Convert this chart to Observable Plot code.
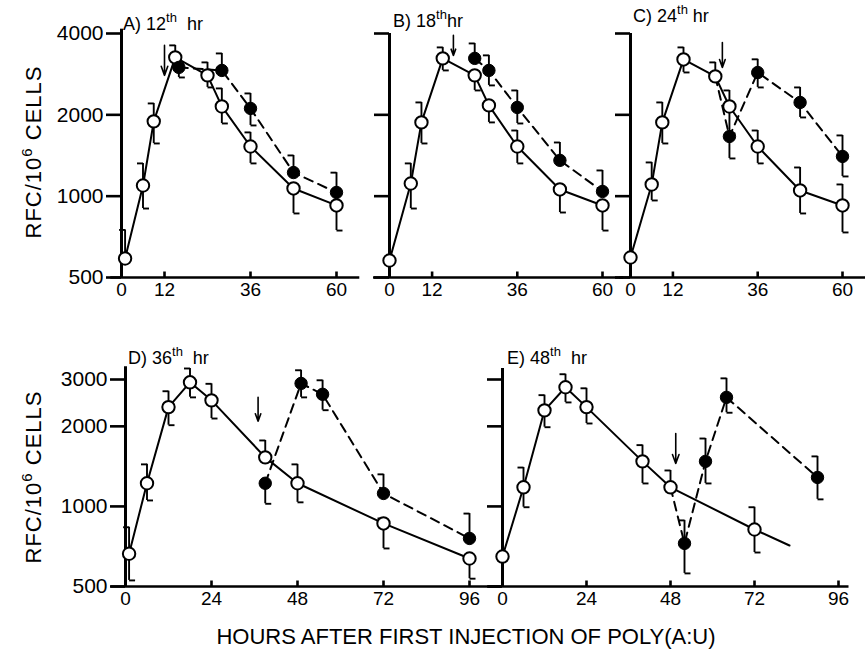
<!DOCTYPE html>
<html><head><meta charset="utf-8">
<script src="https://cdn.jsdelivr.net/npm/d3@7"></script>
<script src="https://cdn.jsdelivr.net/npm/@observablehq/plot@0.6"></script>
<style>
body{margin:0;background:#fff;}
#wrap{position:relative;width:865px;height:651px;font-family:"Liberation Sans",Arial,sans-serif;color:#000;overflow:hidden;background:#fff}
#wrap svg{position:absolute;left:0;top:0}
.t{position:absolute;font-size:18px;line-height:18px;white-space:nowrap}
.t sup{font-size:13px;line-height:0;vertical-align:0;position:relative;top:-8px}
.ylab{position:absolute;font-size:22px;line-height:22px;letter-spacing:1px;white-space:nowrap;transform:translate(-50%,-50%) rotate(-90deg)}
.ylab sup{font-size:15px;line-height:0;vertical-align:0;position:relative;top:-9px}
.xlab{position:absolute;font-size:22px;line-height:22px;white-space:nowrap;transform:translateX(-50%)}
</style></head>
<body><div id="wrap"></div>
<script>
// ---- data: [hour, RFC per 10^6 cells, lower bar end, upper bar end] (null = hidden end)
const A_open = [[1,588,null,750],[6,1095,900,1322],[9,1892,1567,2204],[15,3264,null,3615],[24,2800,2526,3127],[28,2148,1858,2505],[36,1527,1322,1722],[48,1068,863,null],[60,924,746,null]];
const A_filled = [[16,2996,2750,null],[28,2920,null,3375],[36,2112,1827,2400],[48,1223,null,1415],[60,1032,null,1222]];
const B_open = [[0,578,null,null],[6,1114,900,1322],[9,1875,1567,2223],[15,3236,2920,3553],[24,2800,2462,null],[28,2167,1875,null],[36,1527,1322,1750],[48,1059,870,null],[60,924,746,null]];
const B_filled = [[24,3236,null,3675],[28,2920,2570,3320],[36,2130,1858,2462],[48,1357,null,1580],[60,1041,null,1245]];
const C_open = [[0,593,null,null],[6,1105,964,1333],[9,1875,1567,2223],[15,3207,2870,3553],[24,2775,null,3127],[28,2148,1706,2462],[36,1527,1322,1750],[48,1050,863,1277],[60,924,734,1105]];
const C_filled = [[28,1663,1379,null],[36,2868,2526,3210],[48,2222,1956,2526],[60,1403,1183,1678]];
const D_open = [[1,664,527,835],[6,1222,1053,1439],[12,2362,2020,2710],[18,2928,2570,3300],[24,2505,2140,2890],[39,1529,null,1770],[48,1222,1036,1439],[72,863,695,901],[96,637,535,null]];
const D_filled = [[39,1222,1023,null],[49,2900,2570,3250],[55,2639,2300,2980],[72,1119,null,1320],[96,758,null,940]];
const E_open = [[0,648,null,null],[6,1180,993,1400],[12,2297,1985,2620],[18,2806,2460,3140],[24,2362,2050,2780],[40,1477,1220,1700],[48,1180,null,1365],[72,819,671,993]];
const E_filled = [[52,726,560,886],[58,1477,1220,1800],[64,2570,2250,3030],[90,1285,1063,1542]];
const E_tail = [[72,819],[82,713]];            // solid line continues past last open point
const dashStart = {A:null, B:null, C:24, D:null, E:48}; // dashed curve starts at this open point
// treatment arrows: [hour, from value, to value]
const arrowsData = {A:[12,3615,2800], B:[18,3935,3318], C:[26,3707,2996], D:[37,2570,2090], E:[49.5,1880,1450]};
const titles = {A:["A) 12","th","\u00a0\u00a0hr"], B:["B) 18","th","hr"], C:["C) 24","th","\u00a0hr"], D:["D) 36","th","\u00a0\u00a0hr"], E:["E) 48","th","\u00a0\u00a0hr"]};
const yTicksTop = [500,1000,2000,4000];
const yTicksBottom = [500,1000,2000,3000];
const xLabelsTop = [0,12,36,60];
const xLabelsBottom = [0,24,48,72,96];
const yAxisTitle = ["RFC/10","6"," CELLS"];
const xAxisTitle = "HOURS AFTER FIRST INJECTION OF POLY(A:U)";

// ---- helpers
const capLeft = {draw(c,s){const r=Math.sqrt(s/Math.PI);c.moveTo(-r,0);c.lineTo(0,0);}};
const capRight = {draw(c,s){const r=Math.sqrt(s/Math.PI);c.moveTo(0,0);c.lineTo(r,0);}};
const tickUp = {draw(c,s){const r=Math.sqrt(s/Math.PI);c.moveTo(0,0);c.lineTo(0,-r);}};
const rows = a => a.map(([t,v,lo,hi]) => ({t,v,lo,hi}));

function panel(key, open, filled, cfg){
  const O = rows(open), F = rows(filled);
  const all = O.concat(F).filter(d => d.lo!=null || d.hi!=null);
  const ds = dashStart[key];
  const dashed = (ds!=null ? O.filter(d=>d.t===ds) : []).concat(F);
  const ar = arrowsData[key];
  const marks = [
    Plot.ruleY([500], {x1: cfg.axFrom, x2: cfg.axTo, strokeWidth: 2.6}),
    Plot.ruleX([0], {y1: 500, y2: cfg.axTop, strokeWidth: 3}),
    Plot.axisY({ticks: cfg.yTicks, tickSize: 15, tickPadding: 3, strokeWidth: 2.6,
      tickFormat: cfg.yLab ? (d => String(d)) : (() => ""), fontSize: 21, label: null}),
    Plot.axisX({ticks: cfg.xLabels, tickSize: 0, tickPadding: 5, fontSize: 19, label: null}),
    Plot.dot(cfg.xLabels.filter(d=>d>0), {x: d=>d, frameAnchor: "bottom", symbol: tickUp, r: 6, stroke: "black", strokeWidth: 2.6, fill: "none"}),
    Plot.line(O, {x:"t", y:"v", strokeWidth: 2}),
  ];
  if (cfg.tail) marks.push(Plot.line(rows(cfg.tail), {x:"t", y:"v", strokeWidth: 2}));
  marks.push(
    Plot.line(dashed, {x:"t", y:"v", strokeWidth: 2, strokeDasharray: "9,6"}),
    Plot.ruleX(all, {x:"t", y1: d => d.lo ?? d.v, y2: d => d.hi ?? d.v, strokeWidth: 1.9}),
    Plot.dot(all.filter(d=>d.hi!=null), {x:"t", y:"hi", symbol: capLeft, r: 6, stroke:"black", fill:"none", strokeWidth: 1.9}),
    Plot.dot(all.filter(d=>d.lo!=null), {x:"t", y:"lo", symbol: capRight, r: 6, stroke:"black", fill:"none", strokeWidth: 1.9}),
    Plot.dot(O, {x:"t", y:"v", r: 6.2, fill:"white", stroke:"black", strokeWidth: 2}),
    Plot.dot(F, {x:"t", y:"v", r: 6.2, fill:"black", stroke:"black", strokeWidth: 1}),
    Plot.arrow([ar], {x1: d=>d[0], x2: d=>d[0], y1: d=>d[1], y2: d=>d[2], headLength: 9, headAngle: 40, strokeWidth: 1.6})
  );
  return Plot.plot({
    width: 865, height: 651,
    marginLeft: cfg.x0, marginRight: 865 - cfg.x1, marginTop: cfg.yTopPx, marginBottom: 651 - cfg.yBotPx,
    x: {domain: [0, cfg.xMax], label: null},
    y: {type: "log", domain: [500, cfg.yMax], label: null},
    style: {background: "transparent", overflow: "visible", fontFamily: "'Liberation Sans', Arial, sans-serif", color: "black"},
    marks
  });
}

const wrap = document.getElementById("wrap");
const topRow = {yTicks: yTicksTop, xLabels: xLabelsTop, xMax: 60, yMax: 4000, yTopPx: 33, yBotPx: 277};
const botRow = {yTicks: yTicksBottom, xLabels: xLabelsBottom, xMax: 96, yMax: 3000, yTopPx: 379, yBotPx: 586};
const specs = [
  ["A", A_open, A_filled, {...topRow, x0:121, x1:336, axFrom:-3, axTo:66.5, axTop:4150, yLab:true}],
  ["B", B_open, B_filled, {...topRow, x0:389, x1:602, axFrom:-4.5, axTo:66, axTop:4000, yLab:false}],
  ["C", C_open, C_filled, {...topRow, x0:630, x1:842, axFrom:-3, axTo:70, axTop:4000, yLab:false}],
  ["D", D_open, D_filled, {...botRow, x0:125, x1:469, axFrom:-4, axTo:105, axTop:3350, yLab:true}],
  ["E", E_open, E_filled, {...botRow, x0:502, x1:838, axFrom:-4, axTo:99, axTop:3300, yLab:false, tail:E_tail}],
];
for (const [k,o,f,c] of specs) wrap.appendChild(panel(k,o,f,c));

// titles
const titlePos = {A:[123,15], B:[393,12], C:[633,7], D:[128,349], E:[507,349]};
for (const k of Object.keys(titles)) {
  const d = document.createElement("div"); d.className = "t";
  d.style.left = titlePos[k][0]+"px"; d.style.top = titlePos[k][1]+"px";
  const [a,s,b] = titles[k];
  d.innerHTML = a + "<sup>" + s + "</sup>" + b;
  wrap.appendChild(d);
}
for (const cy of [152, 477]) {
  const d = document.createElement("div"); d.className = "ylab";
  d.style.left = "34px"; d.style.top = cy+"px";
  d.innerHTML = yAxisTitle[0] + "<sup>" + yAxisTitle[1] + "</sup>" + yAxisTitle[2];
  wrap.appendChild(d);
}
const xl = document.createElement("div"); xl.className = "xlab";
xl.style.left = "466px"; xl.style.top = "626px"; xl.textContent = xAxisTitle;
wrap.appendChild(xl);
</script></body></html>
